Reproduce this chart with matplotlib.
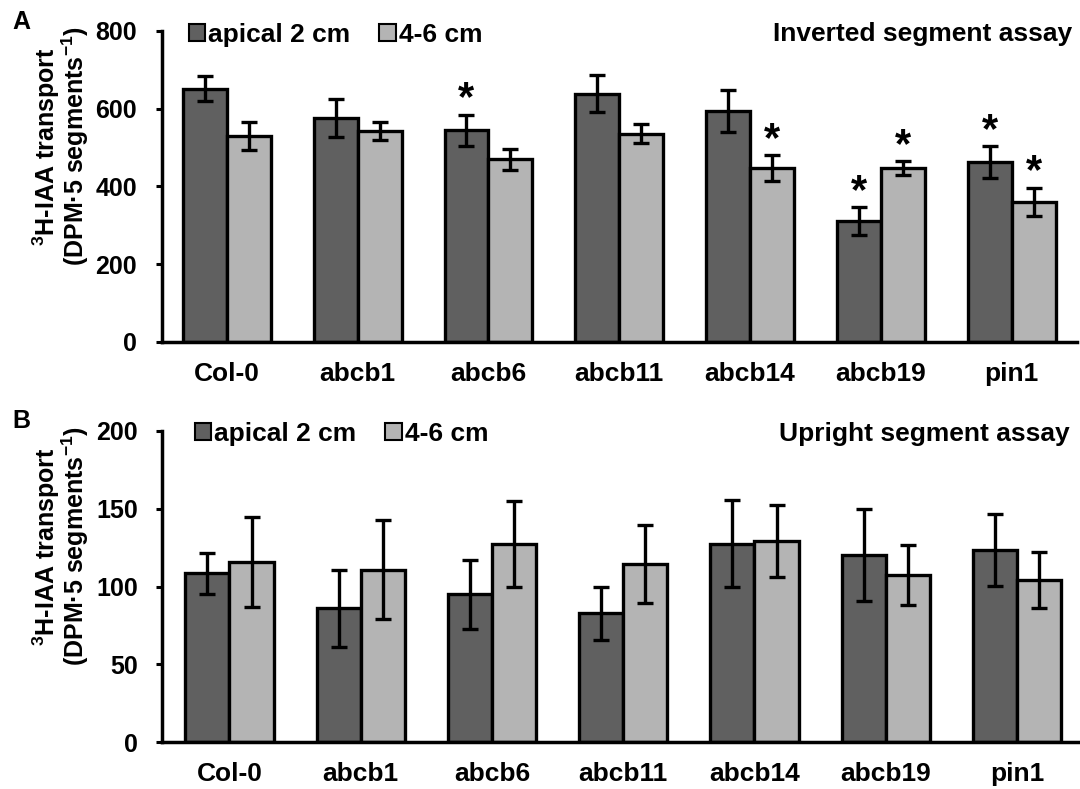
import matplotlib
matplotlib.use("Agg")
import matplotlib.pyplot as plt
from matplotlib.patches import Patch
import numpy as np

plt.rcParams['font.family'] = ['Liberation Sans', 'DejaVu Sans']
plt.rcParams['font.weight'] = 'bold'
plt.rcParams['mathtext.fontset'] = 'custom'
plt.rcParams['mathtext.rm'] = 'Liberation Sans:bold'
plt.rcParams['mathtext.bf'] = 'Liberation Sans:bold'
plt.rcParams['mathtext.it'] = 'Liberation Sans:bold:italic'

# ---------------- data ----------------
categories = ["Col-0", "abcb1", "abcb6", "abcb11", "abcb14", "abcb19", "pin1"]
series_names = ["apical 2 cm", "4-6 cm"]

inv_apical = [652, 576, 545, 639, 595, 310, 463]
inv_apical_err = [33, 48, 40, 47, 54, 36, 41]
inv_46 = [530, 542, 470, 536, 448, 448, 360]
inv_46_err = [35, 23, 27, 24, 33, 18, 37]
inv_apical_sig = [False, False, True, False, False, True, True]
inv_46_sig = [False, False, False, False, True, True, True]

up_apical = [108.5, 86, 95, 83, 127.5, 120.5, 123.5]
up_apical_err = [13, 24.5, 22, 17, 28, 29.5, 23]
up_46 = [116, 111, 127.5, 114.5, 129.5, 107.5, 104.5]
up_46_err = [29, 31.5, 27.5, 25, 23, 19.5, 18]
up_apical_sig = [False] * 7
up_46_sig = [False] * 7

inv_yticks = [0, 200, 400, 600, 800]
up_yticks = [0, 50, 100, 150, 200]

# ---------------- style ----------------
DARK = "#606060"
LIGHT = "#b4b4b4"
W = 1080
H = 789
BW = 0.336
LW = 2.4
FS = 19

fig = plt.figure(figsize=(W / 100, H / 100), dpi=100)

def px_rect(left, top, right, bottom):
    return [left / W, 1 - bottom / H, (right - left) / W, (bottom - top) / H]

axA = fig.add_axes(px_rect(161.5, 31, 1077, 342))
axB = fig.add_axes(px_rect(162, 431, 1080, 742.3))


def draw_panel(ax, a_vals, a_err, b_vals, b_err, a_sig, b_sig, yticks, xlim,
               title, leg_anchor, title_pos):
    x = np.arange(len(categories))
    ekw = dict(elinewidth=LW, capsize=5.5, capthick=LW, ecolor='black')
    ax.bar(x - BW / 2, a_vals, BW, color=DARK, edgecolor='black', linewidth=LW,
           yerr=a_err, error_kw=ekw, zorder=2, label=series_names[0])
    ax.bar(x + BW / 2, b_vals, BW, color=LIGHT, edgecolor='black', linewidth=LW,
           yerr=b_err, error_kw=ekw, zorder=2, label=series_names[1])
    for xi, v, e, s in zip(x - BW / 2, a_vals, a_err, a_sig):
        if s:
            ax.annotate("*", (xi, v + e), xytext=(0, 3), textcoords='offset points',
                        ha='center', va='baseline', fontsize=30, fontweight='bold')
    for xi, v, e, s in zip(x + BW / 2, b_vals, b_err, b_sig):
        if s:
            ax.annotate("*", (xi, v + e), xytext=(0, 3), textcoords='offset points',
                        ha='center', va='baseline', fontsize=30, fontweight='bold')
    ax.set_xlim(*xlim)
    ax.set_ylim(yticks[0], yticks[-1])
    ax.set_yticks(yticks)
    ax.set_xticks(x)
    ax.set_xticklabels(categories)
    for sp in ['top', 'right']:
        ax.spines[sp].set_visible(False)
    for sp in ['left', 'bottom']:
        ax.spines[sp].set_linewidth(2.5)
    ax.tick_params(axis='x', length=0, pad=14.5, labelsize=FS)
    ax.tick_params(axis='y', direction='out', length=4.5, width=2.2, pad=13,
                   labelsize=18)
    for lab in ax.get_xticklabels() + ax.get_yticklabels():
        lab.set_fontweight('bold')
    handles = [Patch(facecolor=DARK, edgecolor='black', linewidth=1.5),
               Patch(facecolor=LIGHT, edgecolor='black', linewidth=1.5)]
    ax.legend(handles, series_names, loc='lower left', bbox_to_anchor=leg_anchor,
              ncol=2, frameon=False, handlelength=0.62, handleheight=0.62,
              handletextpad=0.12, columnspacing=1.1, borderpad=0, borderaxespad=0,
              prop=dict(size=19, weight='bold'))
    ax.text(title_pos[0], title_pos[1], title, transform=ax.transAxes,
            ha='right', va='baseline', fontsize=FS, fontweight='bold')


draw_panel(axA, inv_apical, inv_apical_err, inv_46, inv_46_err,
           inv_apical_sig, inv_46_sig, inv_yticks, (-0.5, 6.5),
           "Inverted segment assay", (0.0297, 0.950), (0.9946, 0.9688))
draw_panel(axB, up_apical, up_apical_err, up_46, up_46_err,
           up_apical_sig, up_46_sig, up_yticks, (-0.514, 6.48),
           "Upright segment assay", (0.0355, 0.953), (0.989, 0.968))

line1 = r"$\mathregular{^{3}}$H-IAA transport"
line2 = r"(DPM·5 segments$\mathregular{^{-1}}$)"
for off in (0, 400):
    fig.text(46.5 / W, 1 - (146.5 + off) / H, line1, rotation=90, ha='center',
             va='center', fontsize=18, fontweight='bold')
    fig.text(75 / W, 1 - (146.5 + off) / H, line2, rotation=90, ha='center',
             va='center', fontsize=18, fontweight='bold')

fig.text(21 / W, 1 - 22 / H, "A", ha='center', va='center', fontsize=18,
         fontweight='bold')
fig.text(21 / W, 1 - 421 / H, "B", ha='center', va='center', fontsize=18,
         fontweight='bold')

fig.savefig("out.png", dpi=100)
